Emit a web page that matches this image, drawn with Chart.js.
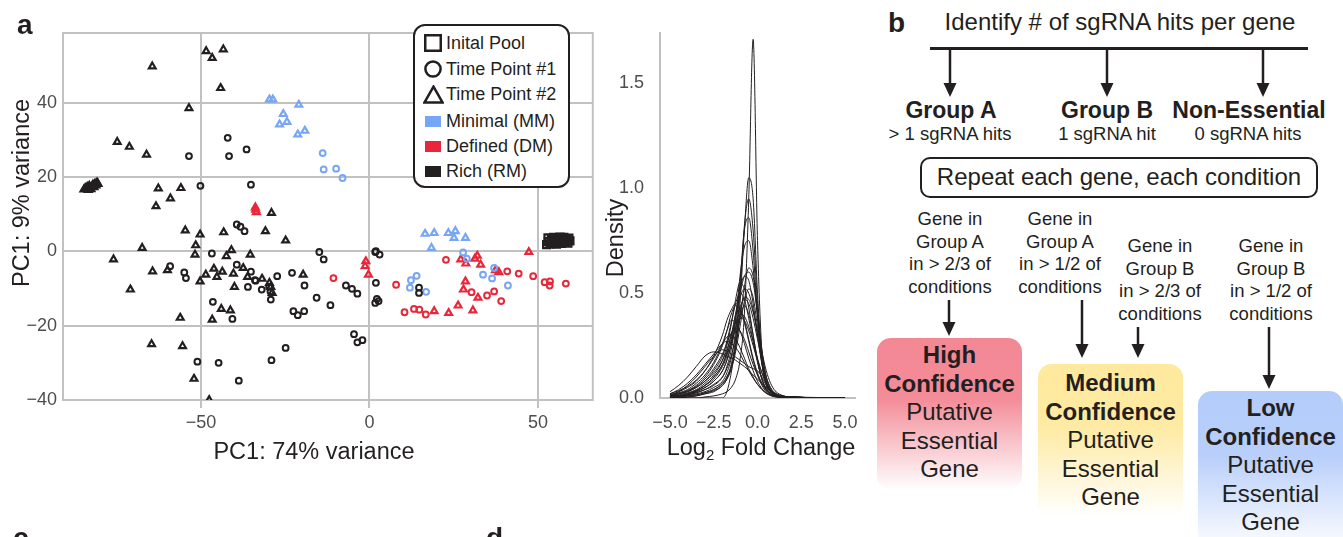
<!DOCTYPE html>
<html>
<head>
<meta charset="utf-8">
<script src="https://cdn.jsdelivr.net/npm/chart.js@4.4.0/dist/chart.umd.min.js"></script>
<style>
  body { margin: 0; width: 1343px; height: 537px; overflow: hidden; background: #fff; position: relative;
         font-family: "Liberation Sans", Arial, Helvetica, sans-serif; color: #231f20; }
  canvas { position: absolute; }
  .t { position: absolute; white-space: nowrap; transform: translate(-50%, -50%); line-height: 1.15; }
  .rot { transform: translate(-50%, -50%) rotate(-90deg); }
  .letter { position: absolute; font-weight: bold; font-size: 28px; line-height: 28px; }
  .title { font-size: 23.5px; }
  .big { font-size: 24px; }
  .group { font-size: 23px; font-weight: bold; }
  .small { font-size: 18.5px; }
  .cond { position: absolute; font-size: 18.5px; line-height: 22.6px; text-align: center; white-space: nowrap; transform: translateX(-50%); }
  .conf { position: absolute; width: 145px; font-size: 24px; line-height: 28.6px; text-align: center; border-radius: 14px; box-sizing: border-box; }
  .conf b { display: block; }
  #legend { position: absolute; left: 413px; top: 24px; width: 153px; height: 160px; border: 2px solid #231f20;
            border-radius: 12px; background: #fff; }
  #legend .row { position: absolute; left: 0; height: 22px; font-size: 18px; line-height: 22px; white-space: nowrap; }
  #legend svg { position: absolute; }
</style>
</head>
<body>
<canvas id="pca" width="600" height="440" style="left:0;top:0"></canvas>
<canvas id="dens" width="270" height="440" style="left:600px;top:0"></canvas>

<div class="letter" style="left:17px;top:11px">a</div>
<div class="t rot title" style="left:22px;top:193px">PC1: 9% variance</div>
<div class="t title" style="left:314px;top:452px">PC1: 74% variance</div>
<div id="legend"></div>

<div class="t rot title" style="left:616px;top:238px">Density</div>
<div class="t title" style="left:761px;top:449px">Log<sub style="font-size:15px;vertical-align:-5px">2</sub> Fold Change</div>

<div class="letter" style="left:888px;top:9px">b</div>
<div class="t big" style="left:1120px;top:22px">Identify # of sgRNA hits per gene</div>
<div style="position:absolute;left:930px;top:47px;width:378px;height:2.5px;background:#231f20"></div>
<div class="t group" style="left:951px;top:110px">Group A</div>
<div class="t group" style="left:1107px;top:110px">Group B</div>
<div class="t group" style="left:1249px;top:110px">Non-Essential</div>
<div class="t small" style="left:950px;top:134px">&gt; 1 sgRNA hits</div>
<div class="t small" style="left:1107px;top:134px">1 sgRNA hit</div>
<div class="t small" style="left:1248px;top:134px">0 sgRNA hits</div>
<div style="position:absolute;left:920px;top:157px;width:398px;height:41px;box-sizing:border-box;border:2.5px solid #231f20;border-radius:10px;font-size:24px;line-height:36px;text-align:center">Repeat each gene, each condition</div>

<div class="cond" style="left:950px;top:208px">Gene in<br>Group A<br>in &gt; 2/3 of<br>conditions</div>
<div class="cond" style="left:1060px;top:208px">Gene in<br>Group A<br>in &gt; 1/2 of<br>conditions</div>
<div class="cond" style="left:1160px;top:235px">Gene in<br>Group B<br>in &gt; 2/3 of<br>conditions</div>
<div class="cond" style="left:1271px;top:235px">Gene in<br>Group B<br>in &gt; 1/2 of<br>conditions</div>

<div class="conf" style="left:877px;top:338px;height:152px;padding-top:3px;background:linear-gradient(to bottom, rgb(243,136,149) 0%, rgb(243,140,152) 40%, rgba(243,140,152,0) 100%)"><b>High</b><b>Confidence</b>Putative<br>Essential<br>Gene</div>
<div class="conf" style="left:1038px;top:364px;height:153px;padding-top:5px;background:linear-gradient(to bottom, rgb(254,233,158) 0%, rgb(254,234,162) 40%, rgba(254,234,162,0) 100%)"><b>Medium</b><b>Confidence</b>Putative<br>Essential<br>Gene</div>
<div class="conf" style="left:1198px;top:391px;height:160px;padding-top:3px;background:linear-gradient(to bottom, rgb(180,204,250) 0%, rgb(184,207,250) 40%, rgba(184,207,250,0) 100%)"><b>Low</b><b>Confidence</b>Putative<br>Essential<br>Gene</div>

<svg id="arrows" width="1343" height="537" style="position:absolute;left:0;top:0;pointer-events:none"></svg>

<div class="letter" style="left:13px;top:524px">c</div>
<div class="letter" style="left:486px;top:524px">d</div>

<script>
// PCA panel data (PC1 vs PC2)
const pcaXTicks = [-50, 0, 50];
const pcaYTicks = [-40, -20, 0, 20, 40];

const colRich = '#231f20';
const colMin = '#78a6f6';
const colDef = '#e8283a';

// Rich medium (RM), time point #1 (open circles)
const richT1 = [
  [-42.1, 30.5], [-36.5, 27.4], [-41.7, 25.6], [-53.6, 25.6], [-50.2, 17.6], [-35.2, 17.9],
  [-59.2, -4.0], [-55.0, -5.7], [-54.5, -7.2], [-46.8, -0.6], [-46.5, -13.6], [-40.7, -18.2],
  [-51.1, -29.7], [-44.8, -30.0], [-38.8, -34.8], [-39.4, 7.2], [-38.3, 6.6], [-37.1, 5.4],
  [-39.4, -3.6], [-35.2, -5.5], [-34.0, -7.8], [-29.8, -9.6], [-32.0, -10.3], [-29.3, -13.0],
  [-36.1, -9.6], [-27.4, -6.7], [-23.0, -5.8], [-19.3, -9.2], [-15.7, -12.5], [-11.6, -14.5],
  [-22.6, -16.1], [-21.3, -17.2], [-19.4, -16.1], [-14.9, -0.2], [-13.6, -2.2], [-7.0, -9.2],
  [-5.2, -10.1], [-3.6, -11.4], [1.7, -0.2], [1.9, -8.5], [1.7, -13.9], [-4.6, -22.3],
  [-3.6, -24.5], [-2.1, -23.9], [-24.9, -26.0], [-29.1, -29.3], [1.9, 0.0], [3.0, -0.9],
  [2.2, -12.8], [2.7, -13.4], [14.7, -9.8], [14.7, -11.2], [-29.4, -10.8], [-33.8, -7.9]
];
// Rich medium (RM), time point #2 (open triangles)
const richT2 = [
  [-64.5, 49.7], [-48.5, 53.8], [-46.7, 52.0], [-43.4, 54.3], [-44.2, 43.9], [-53.6, 38.5],
  [-74.9, 29.4], [-71.3, 28.1], [-66.2, 26.0], [-62.7, 16.9], [-56.0, 17.0], [-59.1, 14.2],
  [-63.4, 12.1], [-29.1, 10.3], [-76.0, -2.2], [-64.4, -5.4], [-60.0, -5.1], [-71.0, -10.3],
  [-50.3, -8.1], [-48.6, -6.3], [-51.8, -0.9], [-56.2, -17.9], [-46.7, -18.4], [-44.0, -15.5],
  [-41.3, -15.9], [-64.7, -25.0], [-55.5, -25.5], [-52.1, -34.3], [-47.6, -40.0], [-54.7, 5.6],
  [-50.3, 4.5], [-43.3, 5.1], [-30.9, 5.4], [-24.9, 2.9], [-67.5, 0.9], [-51.6, 1.6],
  [-41.0, 0.3], [-42.5, -1.3], [-35.4, -0.9], [-37.5, -4.5], [-46.2, -4.7], [-43.7, -5.5],
  [-45.3, -6.9], [-40.4, -6.0], [-36.2, -6.9], [-31.9, -7.4], [-29.7, -8.5], [-29.3, -9.6],
  [-28.9, -11.2], [-40.1, -9.6], [-19.7, -6.3],
  [-84.8, 16.6], [-84.4, 17.0], [-84.0, 16.8], [-83.8, 17.3], [-83.5, 16.5], [-83.2, 17.6],
  [-83.0, 17.0], [-82.7, 16.7], [-82.4, 17.4], [-82.1, 17.9], [-81.8, 17.2], [-81.5, 18.2],
  [-81.2, 17.7], [-80.9, 18.5], [-80.6, 18.1]
];
// Minimal medium (MM)
const minT1 = [
  [-13.9, 26.4], [-13.6, 22.0], [-9.9, 22.2], [-8.0, 19.7], [27.8, -0.3], [28.9, -2.0],
  [33.7, -6.3], [36.4, -7.3], [37.0, -4.5], [41.1, -9.2], [12.3, -7.8], [14.0, -6.6],
  [12.0, -9.8], [16.8, -10.9]
];
const minT2 = [
  [-29.7, 40.8], [-28.7, 40.8], [-21.0, 39.4], [-25.6, 36.9], [-24.5, 34.8], [-26.7, 34.1],
  [-19.2, 32.4], [-21.3, 31.4], [16.5, 4.7], [19.2, 4.9], [23.4, 4.9], [25.5, 5.4],
  [25.1, 3.6], [28.5, 3.6], [18.4, 0.9]
];
// Defined medium (DM)
const defT1 = [
  [-10.7, -7.2], [22.7, -2.3], [40.9, -5.4], [44.3, -6.0], [48.6, -6.7], [52.0, -8.3],
  [53.6, -8.1], [53.5, -9.2], [58.3, -8.7], [30.3, -11.0], [37.0, -10.8], [34.9, -11.9],
  [39.1, -13.4], [10.4, -16.4], [13.2, -15.5], [14.8, -15.7], [16.7, -17.0], [7.9, -9.0]
];
const defT2 = [
  [-33.8, 11.2], [-33.6, 10.5], [-33.9, 11.8], [-1.1, -2.7], [-1.3, -4.0], [-0.3, -6.3],
  [27.1, -2.2], [28.6, -3.3], [32.0, -1.2], [31.3, -2.0], [33.0, -3.6], [47.3, -0.2],
  [37.4, -5.1], [38.4, -5.6], [28.5, -8.1], [27.9, -10.3], [32.2, -12.5], [26.3, -14.6],
  [30.7, -15.9], [19.2, -16.1], [23.5, -16.6]
];
// Initial pool (open squares, piled on top of each other)
const initialPool = [
  [52.6, 1.8], [53.1, 2.6], [53.0, 3.6], [53.6, 2.0], [54.0, 3.1], [54.3, 2.3],
  [54.7, 3.7], [55.1, 2.7], [55.5, 1.9], [55.8, 3.3], [56.2, 2.4], [56.6, 3.8],
  [57.0, 2.1], [57.3, 3.0], [57.7, 3.7], [58.1, 2.4], [58.5, 3.2], [58.9, 2.2],
  [59.2, 3.5], [59.5, 2.8], [54.9, 2.2], [56.9, 3.3]
];

const legendShapes = ['Inital Pool', 'Time Point #1', 'Time Point #2'];
const legendMedia = ['Minimal (MM)', 'Defined (DM)', 'Rich (RM)'];

// Density panel: log2 fold change grid and one density curve per sample
const foldX = [-5, -4.5, -4, -3.5, -3, -2.5, -2, -1.75, -1.5, -1.25, -1, -0.75, -0.5, -0.25, 0, 0.25, 0.5, 0.75, 1, 1.5, 2, 3, 5];
const densXTicks = [-5, -2.5, 0, 2.5, 5];
const densYTicks = [0, 0.5, 1, 1.5];
const densityCurves = [
  [0, 0, 0, 0, .005, .01, .02, .03, .05, .09, .18, .40, .95, 1.71, .75, .22, .07, .03, .015, .008, .005, .003, 0],
  [0, 0, .005, .01, .02, .03, .06, .09, .14, .25, .45, .80, 1.05, .95, .50, .18, .06, .025, .012, .006, .004, .002, 0],
  [0, .005, .01, .015, .025, .04, .07, .10, .16, .28, .50, .82, .95, .80, .45, .18, .07, .03, .015, .007, .004, .002, 0],
  [0, .005, .01, .02, .03, .05, .08, .12, .19, .32, .55, .80, .86, .70, .40, .17, .07, .03, .015, .007, .004, .002, 0],
  [.005, .01, .015, .025, .04, .06, .10, .15, .23, .37, .58, .72, .75, .62, .38, .17, .07, .03, .015, .007, .004, .002, 0],
  [.005, .01, .02, .03, .05, .08, .13, .18, .26, .38, .50, .58, .60, .55, .40, .22, .10, .045, .02, .008, .004, .002, 0],
  [.005, .01, .02, .035, .06, .09, .15, .20, .28, .40, .52, .58, .56, .45, .30, .16, .07, .03, .015, .007, .004, .002, 0],
  [.008, .015, .025, .04, .07, .11, .18, .25, .35, .47, .55, .52, .43, .30, .18, .09, .04, .02, .01, .005, .003, .002, 0],
  [.005, .01, .02, .035, .06, .10, .16, .22, .30, .40, .48, .52, .50, .42, .30, .17, .08, .035, .015, .007, .004, .002, 0],
  [.01, .02, .03, .05, .08, .13, .20, .27, .36, .45, .50, .47, .38, .27, .17, .09, .045, .02, .01, .005, .003, .002, 0],
  [.005, .01, .015, .03, .05, .08, .13, .18, .25, .34, .43, .47, .45, .38, .28, .18, .10, .05, .025, .008, .004, .002, 0],
  [.01, .02, .035, .06, .10, .16, .25, .32, .40, .44, .42, .36, .27, .18, .11, .06, .03, .015, .008, .004, .003, .002, 0],
  [.01, .02, .03, .05, .08, .12, .18, .23, .30, .36, .40, .39, .34, .27, .19, .12, .07, .035, .015, .006, .003, .002, 0],
  [.015, .025, .04, .07, .11, .17, .26, .32, .37, .36, .32, .26, .19, .13, .08, .045, .025, .012, .006, .003, .002, .001, 0],
  [.01, .02, .035, .055, .09, .14, .21, .26, .31, .33, .32, .28, .22, .16, .11, .07, .04, .02, .01, .004, .002, .001, 0],
  [.02, .035, .055, .085, .13, .19, .26, .29, .30, .28, .24, .19, .14, .10, .065, .04, .022, .012, .006, .003, .002, .001, 0],
  [.03, .06, .10, .15, .20, .22, .21, .20, .19, .18, .165, .15, .13, .11, .09, .07, .05, .035, .02, .008, .004, .002, 0],
  [.01, .03, .06, .10, .15, .20, .23, .225, .21, .195, .18, .165, .15, .14, .13, .10, .06, .035, .02, .008, .004, .002, 0],
  [0, 0, 0, 0, 0, 0, 0, .03, .12, .25, .38, .44, .40, .30, .18, .09, .045, .02, .01, .004, .002, .001, 0],
  [0, 0, .005, .01, .02, .035, .06, .09, .14, .22, .34, .46, .52, .48, .34, .18, .08, .03, .012, .005, .003, .002, 0],
  [.015, .03, .05, .08, .13, .20, .30, .37, .42, .45, .43, .37, .28, .19, .12, .07, .035, .017, .008, .004, .002, .001, 0],
  [.005, .01, .02, .035, .06, .10, .16, .21, .27, .33, .38, .37, .32, .25, .18, .12, .07, .04, .02, .006, .003, .002, 0],
  [.02, .04, .07, .11, .16, .21, .26, .27, .26, .24, .21, .17, .13, .095, .065, .042, .025, .014, .007, .003, .002, .001, 0],
  [.005, .01, .015, .025, .04, .065, .10, .14, .20, .29, .40, .48, .47, .41, .32, .22, .13, .07, .035, .01, .004, .002, 0],
  [0, .005, .01, .015, .025, .04, .07, .10, .15, .24, .38, .53, .62, .58, .42, .23, .10, .04, .018, .007, .004, .002, 0]
];

const gridGray = '#c1c1c1';
const tickGray = '#4d4d4d';
const minus = v => (v < 0 ? '\u2212' + Math.abs(v) : String(v));
const minusFixed = v => (v < 0 ? '\u2212' + Math.abs(v).toFixed(1) : v.toFixed(1));

// outline round the whole PCA panel, drawn under the points
const panelBorder = {
  id: 'panelBorder',
  beforeDatasetsDraw(chart) {
    const { ctx, chartArea: a } = chart;
    ctx.save();
    ctx.strokeStyle = gridGray;
    ctx.lineWidth = 2;
    ctx.strokeRect(a.left, a.top, a.right - a.left, a.bottom - a.top);
    ctx.restore();
  }
};

const toPts = arr => arr.map(([x, y]) => ({ x, y }));
const pointSet = (data, color, style) => ({
  data: toPts(data),
  pointStyle: style,
  borderColor: color,
  backgroundColor: 'rgba(0,0,0,0)',
  pointBorderWidth: style === 'circle' ? 2 : 2.2,
  pointRadius: style === 'circle' ? 2.9 : (style === 'rect' ? 5 : 3.9),
  showLine: false
});

new Chart(document.getElementById('pca'), {
  type: 'scatter',
  data: {
    datasets: [
      pointSet(initialPool, colRich, 'rect'),
      pointSet(richT1, colRich, 'circle'),
      pointSet(richT2, colRich, 'triangle'),
      pointSet(minT1, colMin, 'circle'),
      pointSet(minT2, colMin, 'triangle'),
      pointSet(defT1, colDef, 'circle'),
      pointSet(defT2, colDef, 'triangle')
    ]
  },
  options: {
    responsive: false,
    animation: false,
    devicePixelRatio: 1,
    layout: { padding: { top: 33, right: 5, left: 0, bottom: 0 } },
    plugins: { legend: { display: false }, tooltip: { enabled: false } },
    scales: {
      x: {
        type: 'linear', min: -91, max: 66.3,
        afterBuildTicks: s => { s.ticks = pcaXTicks.map(v => ({ value: v })); },
        afterFit: s => { s.height = 40; },
        border: { display: false },
        grid: { color: gridGray, lineWidth: 2, tickLength: 8 },
        ticks: { color: tickGray, font: { size: 18, family: 'Liberation Sans' }, padding: 4, maxRotation: 0, callback: v => minus(v) }
      },
      y: {
        min: -40, max: 58.7,
        afterBuildTicks: s => { s.ticks = pcaYTicks.map(v => ({ value: v })); },
        afterFit: s => { s.width = 63; },
        border: { display: false },
        grid: { color: gridGray, lineWidth: 2, drawTicks: false },
        ticks: { color: tickGray, font: { size: 18, family: 'Liberation Sans' }, padding: 6, callback: v => minus(v) }
      }
    }
  },
  plugins: [panelBorder]
});

new Chart(document.getElementById('dens'), {
  type: 'line',
  data: {
    datasets: densityCurves.map(c => ({
      data: foldX.map((x, i) => ({ x, y: c[i] })),
      borderColor: '#231f20',
      borderWidth: 1,
      pointRadius: 0,
      cubicInterpolationMode: 'monotone',
      fill: false
    }))
  },
  options: {
    responsive: false,
    animation: false,
    devicePixelRatio: 1,
    layout: { padding: { top: 33, right: 15, left: 0, bottom: 0 } },
    plugins: { legend: { display: false }, tooltip: { enabled: false } },
    scales: {
      x: {
        type: 'linear', min: -5.57, max: 5.57,
        afterBuildTicks: s => { s.ticks = densXTicks.map(v => ({ value: v })); },
        afterFit: s => { s.height = 42; },
        border: { display: true, color: gridGray, width: 2 },
        grid: { display: false },
        ticks: { color: tickGray, font: { size: 18, family: 'Liberation Sans' }, padding: 6, maxRotation: 0,
                 callback: v => minusFixed(v) }
      },
      y: {
        min: 0, max: 1.74,
        afterBuildTicks: s => { s.ticks = densYTicks.map(v => ({ value: v })); },
        afterFit: s => { s.width = 60; },
        border: { display: true, color: gridGray, width: 2 },
        grid: { display: false },
        ticks: { color: tickGray, font: { size: 18, family: 'Liberation Sans' }, padding: 8, callback: v => v.toFixed(1) }
      }
    }
  }
});

// legend for the PCA panel
(function buildLegend() {
  const box = document.getElementById('legend');
  const svgNS = 'http://www.w3.org/2000/svg';
  const shapeSvg = [
    '<rect x="1.25" y="1.25" width="15.5" height="15.5" fill="none" stroke="#231f20" stroke-width="2.5"/>',
    '<circle cx="9" cy="9" r="7.6" fill="none" stroke="#231f20" stroke-width="2.5"/>',
    '<polygon points="10.5,1.6 19.6,17.6 1.4,17.6" fill="none" stroke="#231f20" stroke-width="2.5" stroke-linejoin="miter"/>'
  ];
  const mediaColors = [colMin, colDef, colRich];
  const rowTops = [6, 32, 57, 84, 109, 134];
  const rows = [];
  legendShapes.forEach((label, i) => rows.push({ label, svg: shapeSvg[i], w: i === 2 ? 21 : 18, h: i === 2 ? 19 : 18 }));
  legendMedia.forEach((label, i) => rows.push({ label, svg: `<rect x="0" y="0" width="16" height="11" fill="${mediaColors[i]}"/>`, w: 16, h: 11 }));
  rows.forEach((r, i) => {
    const row = document.createElement('div');
    row.className = 'row';
    row.style.top = rowTops[i] + 'px';
    const s = document.createElementNS(svgNS, 'svg');
    s.setAttribute('width', r.w);
    s.setAttribute('height', r.h);
    s.style.left = (18 - r.w / 2) + 'px';
    s.style.top = (11 - r.h / 2) + 'px';
    s.innerHTML = r.svg;
    row.appendChild(s);
    const t = document.createElement('span');
    t.textContent = r.label;
    t.style.position = 'absolute';
    t.style.left = '31px';
    row.appendChild(t);
    box.appendChild(row);
  });
})();

// flow-chart arrows in panel b
(function drawArrows() {
  const arrows = [
    [950, 48, 97], [1107, 48, 97], [1263, 48, 97],
    [949, 300, 336], [1082, 300, 358], [1138, 327, 358], [1269, 327, 389]
  ];
  const svg = document.getElementById('arrows');
  svg.innerHTML = arrows.map(([x, y1, y2]) =>
    `<line x1="${x}" y1="${y1}" x2="${x}" y2="${y2 - 10}" stroke="#231f20" stroke-width="2.5"/>` +
    `<polygon points="${x - 6.5},${y2 - 14} ${x + 6.5},${y2 - 14} ${x},${y2}" fill="#231f20"/>`
  ).join('');
})();
</script>
</body>
</html>
